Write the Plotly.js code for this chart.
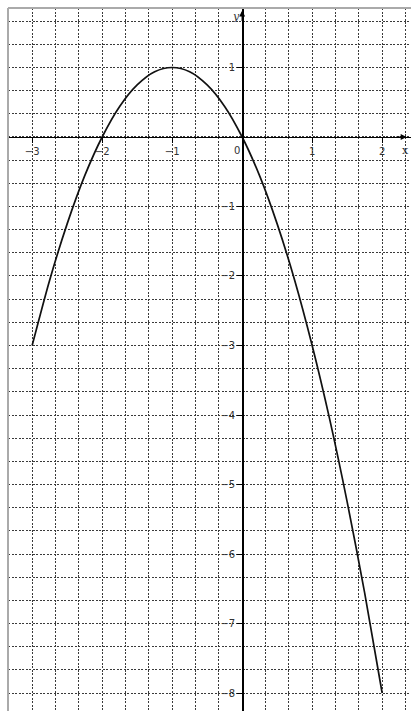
<!DOCTYPE html>
<html>
<head>
<meta charset="utf-8">
<script src="https://cdn.plot.ly/plotly-3.0.1.min.js"></script>
<style>html,body{margin:0;padding:0;background:#fff;}#chart{width:411px;height:711px;}</style>
</head>
<body>
<div id="chart"></div>
<script>
// Curve points
const curveX = [-3, -2.75, -2.5, -2.25, -2, -1.75, -1.5, -1.25, -1, -0.75, -0.5, -0.25, 0, 0.25, 0.5, 0.75, 1, 1.25, 1.5, 1.75, 2];
const curveY = [-3, -2.06, -1.25, -0.56, 0, 0.44, 0.75, 0.94, 1, 0.94, 0.75, 0.44, 0, -0.56, -1.25, -2.06, -3, -4.06, -5.25, -6.56, -8];
// Tick values
const xTickVals = [-3, -2, -1, 1, 2];
const yTickVals = [1, -1, -2, -3, -4, -5, -6, -7, -8];

const xRange = [-3.345, 2.412];
const yRange = [-8.259, 1.856];
const gridStyle = {gridcolor: '#3a3a3a', griddash: '2px,1.5px', gridwidth: 1};

const xPos = (0 - xRange[0]) / (xRange[1] - xRange[0]);
const yPos = (0 - yRange[0]) / (yRange[1] - yRange[0]);

const trace = {
  x: curveX, y: curveY, type: 'scatter', mode: 'lines',
  line: {color: '#111', width: 1.7, shape: 'spline', smoothing: 0.8},
  hoverinfo: 'skip'
};

const layout = {
  width: 411, height: 711,
  margin: {l: 8, r: 0, t: 8, b: 0, pad: 0},
  paper_bgcolor: '#fff', plot_bgcolor: '#fff',
  showlegend: false,
  font: {family: 'DejaVu Sans', size: 10, color: '#333'},
  xaxis: Object.assign({
    range: xRange, anchor: 'free', position: yPos,
    tickmode: 'array', tickvals: xTickVals,
    showgrid: true, zeroline: false,
    showline: true, linecolor: '#000', linewidth: 1.5,
    ticks: 'outside', ticklen: 5, tickcolor: '#000', tickwidth: 1,
    tickfont: {size: 10, color: '#333'},
    minor: Object.assign({tickmode: 'linear', tick0: 0, dtick: 1/3, showgrid: true}, gridStyle)
  }, gridStyle),
  yaxis: Object.assign({
    range: yRange, anchor: 'free', position: xPos,
    tickmode: 'array', tickvals: yTickVals,
    showgrid: true, zeroline: false,
    showline: true, linecolor: '#000', linewidth: 1.5,
    ticks: 'outside', ticklen: 5, tickcolor: '#000', tickwidth: 1,
    tickfont: {size: 10, color: '#333'},
    minor: Object.assign({tickmode: 'linear', tick0: 0, dtick: 1/3, showgrid: true}, gridStyle)
  }, gridStyle),
  shapes: [
    {type: 'line', xref: 'paper', yref: 'paper', x0: 0, x1: 0, y0: 0, y1: 1, line: {color: '#aaa', width: 2}},
    {type: 'line', xref: 'paper', yref: 'paper', x0: 0, x1: 1, y0: 1, y1: 1, line: {color: '#aaa', width: 2}}
  ],
  annotations: [
    {x: 2.35, y: 0, xref: 'x', yref: 'y', ax: -12, ay: 0, axref: 'pixel', ayref: 'pixel',
     showarrow: true, arrowhead: 2, arrowsize: 1, arrowwidth: 1.2, arrowcolor: '#000', text: ''},
    {x: 0, y: 1.82, xref: 'x', yref: 'y', ax: 0, ay: 12, axref: 'pixel', ayref: 'pixel',
     showarrow: true, arrowhead: 2, arrowsize: 1, arrowwidth: 1.2, arrowcolor: '#000', text: ''},
    {x: 1, y: -0.19, xref: 'paper', yref: 'y', text: 'x', showarrow: false, xanchor: 'right',
     font: {family: 'DejaVu Serif', size: 11, color: '#333'}},
    {x: -0.09, y: 1.74, xref: 'x', yref: 'y', text: '<i>y</i>', showarrow: false,
     font: {family: 'DejaVu Serif', size: 11, color: '#333'}},
    {x: -0.08, y: -0.19, xref: 'x', yref: 'y', text: '0', showarrow: false,
     font: {family: 'DejaVu Sans', size: 10, color: '#333'}}
  ]
};

Plotly.newPlot('chart', [trace], layout, {displayModeBar: false, staticPlot: true});
</script>
</body>
</html>
